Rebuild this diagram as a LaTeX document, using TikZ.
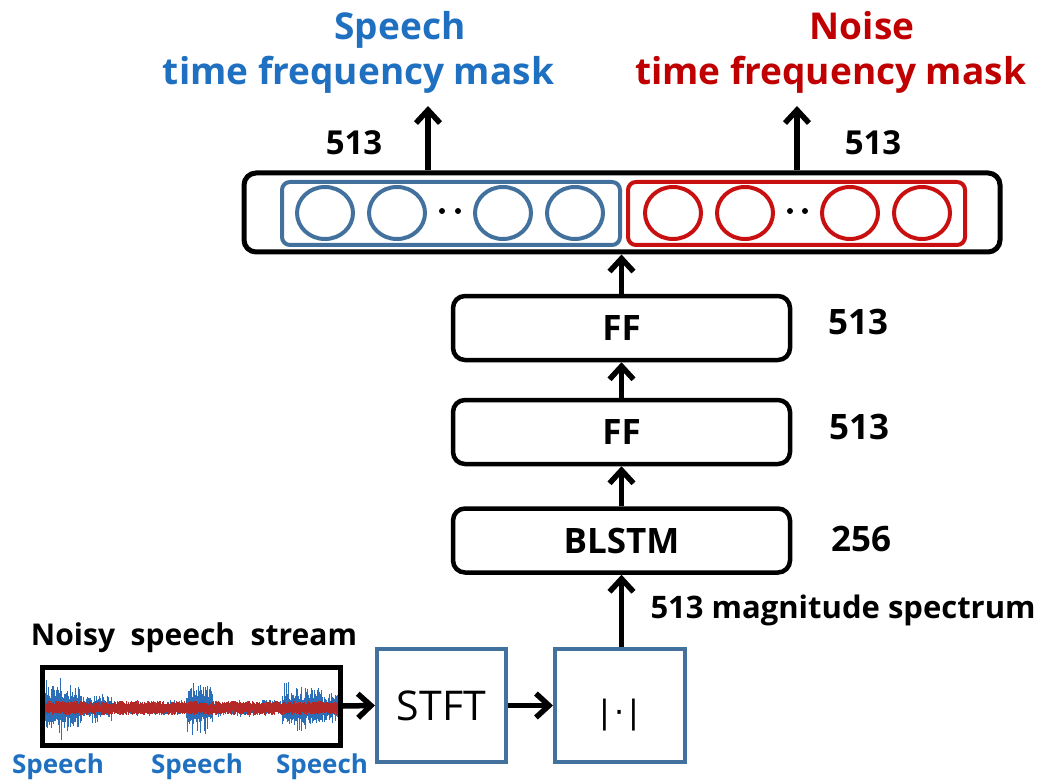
\documentclass[tikz,border=0pt]{standalone}
\usepackage{fontspec}
\setmainfont{Open Sans}
\newfontfamily\djv{DejaVu Sans}
\usetikzlibrary{arrows.meta,shapes.geometric}
\definecolor{tblue}{RGB}{31,112,192}
\definecolor{bxblue}{RGB}{65,113,156}
\definecolor{tred}{RGB}{192,0,0}
\definecolor{cred}{RGB}{200,16,16}
\definecolor{wblue}{RGB}{45,110,185}
\definecolor{wred}{RGB}{180,40,40}
\begin{document}
\begin{tikzpicture}[x=1pt,y=-1pt,
  arr/.style={line width=5.5pt,-{Straight Barb[length=13pt,width=24pt]}},
  layer/.style={draw,line width=4.5pt,rounded corners=12pt,minimum width=337pt,minimum height=64pt,inner sep=0pt,font=\fontsize{35pt}{40pt}\selectfont\bfseries},
  grp/.style={draw,line width=4pt,rounded corners=8pt,minimum height=63pt,inner sep=0pt},
  unit/.style={ellipse,draw,line width=4pt,minimum width=56pt,minimum height=52pt,inner sep=0pt},
  dimlbl/.style={anchor=base,font=\fontsize{35pt}{40pt}\selectfont\bfseries},
  title/.style={anchor=base,font=\fontsize{37pt}{42pt}\selectfont\bfseries},
  dspbox/.style={draw=bxblue,line width=4pt,minimum width=129pt,minimum height=113pt,inner sep=0pt},
  spk/.style={anchor=base,text=tblue,font=\fontsize{26pt}{30pt}\selectfont\bfseries}
]
\useasboundingbox (0,0) rectangle (1048,783);

% titles
\node[title,text=tblue] (t1a) at (400,40) {Speech};
\node[title,text=tblue] (t1b) at (358.5,85) {time frequency mask};
\node[title,text=tred] (t2a) at (862,40) {Noise};
\node[title,text=tred] (t2b) at (830.5,85) {time frequency mask};

% output layer
\node[draw,line width=5pt,rounded corners=12pt,minimum width=756pt,minimum height=79pt,inner sep=0pt] (out) at (622,212.5) {};
\node[grp,draw=bxblue,minimum width=338pt] (gs) at (451,213.5) {};
\node[grp,draw=cred,minimum width=337pt] (gn) at (796.5,213.5) {};
\foreach \n/\x in {s1/325,s2/397,s3/503,s4/575}{
  \node[unit,draw=bxblue] (\n) at (\x,213) {};
}
\foreach \n/\x in {n1/673,n2/745,n3/850,n4/922}{
  \node[unit,draw=cred] (\n) at (\x,213) {};
}
\foreach \x in {442,458,790,805}{
  \fill (\x,211) circle (3pt);
}
\coordinate (o1) at (428,106);
\coordinate (o2) at (797,106);
\draw[arr] (out.north -| o1) -- (o1);
\draw[arr] (out.north -| o2) -- (o2);
\node[anchor=base,font=\fontsize{33pt}{38pt}\selectfont\bfseries] (d1) at (354,155) {513};
\node[anchor=base,font=\fontsize{33pt}{38pt}\selectfont\bfseries] (d2) at (873,155) {513};

% hidden layers
\node[layer] (ff1) at (621.5,328) {FF};
\node[layer] (ff2) at (621.5,432) {FF};
\node[layer] (bl) at (621.5,540.5) {BLSTM};
\node[dimlbl] (l1) at (858,334) {513};
\node[dimlbl] (l2) at (859,439) {513};
\node[dimlbl] (l3) at (861,551) {256};
\draw[arr] (ff1.north) -- (out.south -| ff1.north);
\draw[arr] (ff2.north) -- (ff1.south);
\draw[arr] (bl.north) -- (ff2.south);

% front end
\node[dspbox,font=\fontsize{41pt}{44pt}\selectfont] (stft) at (441.5,705.5) {STFT};
\node[dspbox,minimum width=130pt] (abs) at (620,705.5) {};
\node[font=\djv\fontsize{32pt}{34pt}\selectfont,inner sep=0pt] (absl) at (619.5,715) {|\kern4pt·\kern4pt|};
\draw[arr] (abs.north -| bl.south) -- (bl.south);
\node[anchor=base west,font=\fontsize{31pt}{34pt}\selectfont\bfseries] (mag) at (647,618) {513 magnitude spectrum};

% waveform
\pgfmathsetseed{11}
\foreach \i in {0,...,560}{
  \pgfmathsetmacro\xx{44.5+\i*0.525}
  \pgfmathsetmacro\A{(\xx<62)?34:((\xx<82)?27:((\xx<112)?16:((\xx>186 && \xx<212)?28:((\xx>282 && \xx<322)?26:((\xx>=322)?19:9)))))}
  \pgfmathsetmacro\up{\A*(0.3+0.7*rnd*rnd)}
  \pgfmathsetmacro\dn{\A*(0.3+0.7*rnd*rnd)}
  \draw[wblue,line width=0.6pt] ({\xx},{708-\up}) -- ({\xx},{708+\dn});
}
\foreach \i in {0,...,560}{
  \pgfmathsetmacro\xx{44.5+\i*0.525}
  \pgfmathsetmacro\up{3+4*rnd}
  \pgfmathsetmacro\dn{3+4*rnd}
  \draw[wred,line width=0.6pt] ({\xx},{708-\up}) -- ({\xx},{708+\dn});
}
\node[draw,line width=5pt,minimum width=298pt,minimum height=78pt,inner sep=0pt] (wave) at (191,706) {};
\node[anchor=base,font=\fontsize{30pt}{34pt}\selectfont\bfseries] (noisy) at (194,645) {Noisy\ \ speech\ \ stream};
\node[spk] (sp1) at (58,773) {Speech};
\node[spk] (sp2) at (197,773) {Speech};
\node[spk] (sp3) at (322,773) {Speech};
\draw[arr] (wave.east) -- (stft.west);
\draw[arr] (stft.east) -- (abs.west);
\end{tikzpicture}
\end{document}
